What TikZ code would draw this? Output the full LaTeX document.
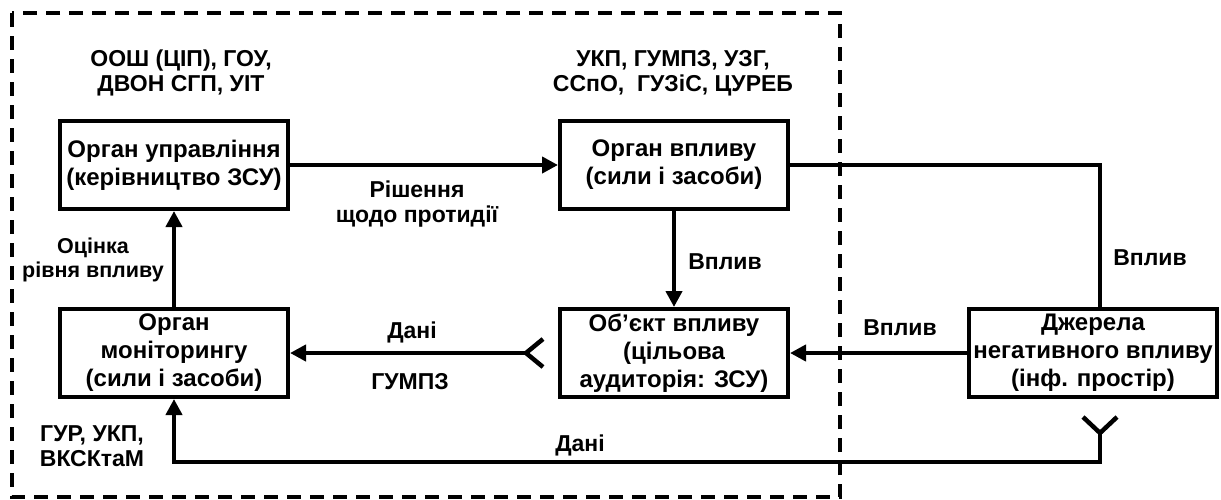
\documentclass[tikz,border=0pt]{standalone}
\usepackage{fontspec}
\setmainfont{Liberation Sans}
\usetikzlibrary{arrows.meta}

\tikzset{
  organ/.style={draw, line width=4pt, minimum width=228pt, minimum height=88pt,
    inner sep=0pt, align=center, font=\bfseries\fontsize{24}{28}\selectfont},
  lbl/.style={inner sep=0pt, align=center, font=\bfseries\fontsize{23}{25}\selectfont},
  link/.style={line width=4.5pt},
  arr/.style={link, -{Triangle[length=16pt,width=16pt]}},
}

\begin{document}
\begin{tikzpicture}[x=1pt,y=-1pt]
    \useasboundingbox (0,0) rectangle (1221,499);
    \draw[line width=3.5pt, dash pattern=on 14pt off 9pt] (12,13) rectangle (840,497);
    % boxes
    \node[organ] (upr) at (174,165) {Орган управління\\(керівництво ЗСУ)};
    \node[organ] (vpl) at (674,165) {Орган впливу\\(сили і засоби)};
    \node[organ] (obj) at (674,353) {Об’єкт впливу\\(цільова\\аудиторія: ЗСУ)};
    \node[organ] (mon) at (174,353) {Орган\\моніторингу\\(сили і засоби)};
    \node[organ, minimum width=248pt] (dzh) at (1093,353) {Джерела\\негативного впливу\\(інф. простір)};
    % texts
    \node[lbl] (ushtab) at (181,73) {ООШ (ЦІП), ГОУ,\\ДВОН СГП, УІТ};
    \node[lbl] (usyl) at (673,73) {УКП, ГУМПЗ, УЗГ,\\ССпО,\ \ ГУЗіС, ЦУРЕБ};
    \node[lbl] (lrish) at (417,204) {Рішення\\щодо протидії};
    \node[lbl, font=\bfseries\fontsize{21.5}{24}\selectfont] (locin) at (93,260) {Оцінка\\рівня впливу};
    \node[lbl] (lvpl1) at (725,262) {Вплив};
    \node[lbl] (lvpl2) at (1150,258) {Вплив};
    \node[lbl] (lvpl3) at (900,328) {Вплив};
    \node[lbl] (ldani1) at (412,332) {Дані};
    \node[lbl] (lgumpz) at (410,382) {ГУМПЗ};
    \node[lbl] (ldani2) at (580,445) {Дані};
    \node[lbl] (lgur) at (92,446) {ГУР, УКП,\\ВКСКтаМ};
    % links
    \draw[arr] (upr) -- (vpl);
    \draw[link] (vpl.east) -| ([xshift=7pt]dzh.north);
    \draw[arr] (vpl) -- (obj);
    \draw[arr] (dzh) -- (obj);
    \draw[arr] (mon) -- (upr);
    \coordinate (forkO) at ([xshift=-32pt]obj.west);
    \draw[arr] (forkO) -- (forkO -| mon.east);
    \draw[link] ([xshift=17pt,yshift=-14pt]forkO) -- (forkO) -- ([xshift=17pt,yshift=14pt]forkO);
    \coordinate (forkD) at ([xshift=7pt,yshift=-34pt]dzh.south);
    \draw[link] ([xshift=-17pt,yshift=16pt]forkD) -- (forkD) -- ([xshift=17pt,yshift=16pt]forkD);
    \draw[arr] (forkD) -- ++(0,29) -| (mon.south);
\end{tikzpicture}
\end{document}
